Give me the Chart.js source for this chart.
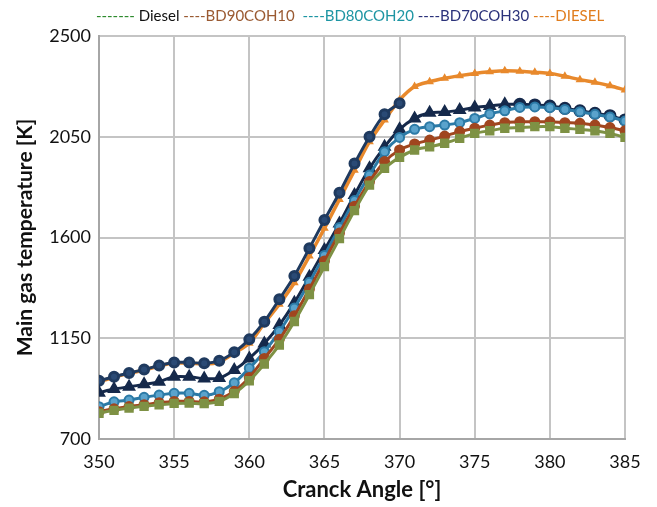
<!DOCTYPE html>
<html>
<head>
<meta charset="utf-8">
<script src="https://cdn.jsdelivr.net/npm/chart.js@4"></script>
<style>
  html, body { margin: 0; padding: 0; background: #fff; }
  #wrap { width: 657px; height: 507px; position: relative; }
</style>
</head>
<body>
<div id="wrap"><canvas id="tempChart" width="657" height="507"></canvas></div>
<script>
// Crank angle [deg]
const angles = [350, 351, 352, 353, 354, 355, 356, 357, 358, 359, 360, 361, 362, 363, 364, 365, 366, 367,
                368, 369, 370, 371, 372, 373, 374, 375, 376, 377, 378, 379, 380, 381, 382, 383, 384, 385];

// Main gas temperature [K] per fuel
const dieselGreen = [815, 828, 838, 846, 853, 859, 860, 858, 868, 903, 960, 1035, 1120, 1225, 1345, 1470, 1595, 1720,
                     1834, 1909, 1958, 1991, 2005, 2021, 2043, 2065, 2077, 2088, 2091, 2095, 2095, 2088, 2083, 2077, 2065, 2047];
const bd90coh10 = [822, 835, 845, 853, 862, 868, 868, 866, 878, 913, 975, 1060, 1145, 1250, 1370, 1495, 1620, 1740,
                   1850, 1939, 1991, 2018, 2035, 2053, 2073, 2088, 2102, 2113, 2117, 2117, 2117, 2113, 2110, 2102, 2091, 2077];
const bd80coh20 = [844, 866, 874, 886, 896, 904, 904, 895, 911, 951, 1016, 1090, 1180, 1285, 1400, 1520, 1645, 1765,
                   1879, 1983, 2047, 2083, 2095, 2102, 2113, 2132, 2152, 2166, 2181, 2183, 2180, 2172, 2162, 2150, 2138, 2120];
const bd70coh30 = [907, 923, 933, 944, 956, 978, 978, 970, 972, 1008, 1060, 1127, 1209, 1309, 1425, 1544, 1663, 1790,
                   1909, 2005, 2083, 2132, 2157, 2160, 2169, 2181, 2187, 2195, 2195, 2192, 2187, 2177, 2166, 2155, 2144, 2125];
const dieselOrange = [956, 975, 993, 1008, 1026, 1039, 1039, 1035, 1044, 1084, 1128, 1217, 1302, 1398, 1517, 1641, 1770, 1900,
                      2028, 2125, 2214, 2274, 2296, 2311, 2323, 2333, 2340, 2345, 2343, 2338, 2333, 2320, 2305, 2293, 2278, 2259];
// dark circle curve, only plotted up to 370 deg
const darkCircles = [960, 978, 995, 1010, 1028, 1042, 1042, 1038, 1050, 1088, 1145, 1224, 1324, 1428, 1552, 1678, 1800, 1930,
                     2050, 2150, 2200];

// ticks
const xTicks = [350, 355, 360, 365, 370, 375, 380, 385];
const yTicks = [700, 1150, 1600, 2050, 2500];

// legend text
const legendNames = ['Diesel', 'BD90COH10', 'BD80COH20', 'BD70COH30', 'DIESEL'];

const FONT = 'Lato, "Liberation Sans", sans-serif';

function toPoints(vals) {
    return vals.map((v, i) => ({ x: angles[i], y: v }));
}

// triangles first, then circles at the top end
const triStyles = bd70coh30.map((v, i) => angles[i] <= 377 ? 'triangle' : 'circle');

// Legend drawn as a line of coloured text on top
const textLegend = {
    id: 'textLegend',
    afterDraw(chart) {
        const ctx = chart.ctx;
        const pieces = [
            { t: '------- ', c: '#2e8b2e' },
            { t: legendNames[0] + ' ', c: '#111' },
            { t: '----' + legendNames[1] + '  ', c: '#9a5a32' },
            { t: '----' + legendNames[2] + ' ', c: '#1d95a3' },
            { t: '----' + legendNames[3] + ' ', c: '#2b327a' },
            { t: '----' + legendNames[4], c: '#e07d1e' }
        ];
        ctx.save();
        ctx.font = '15px ' + FONT;
        ctx.textBaseline = 'middle';
        let total = 0;
        pieces.forEach(p => { total += ctx.measureText(p.t).width; });
        let x = 350 - total / 2;
        pieces.forEach(p => {
            ctx.fillStyle = p.c;
            ctx.fillText(p.t, x, 16);
            x += ctx.measureText(p.t).width;
        });
        ctx.restore();
    }
};

const ctx = document.getElementById('tempChart');
new Chart(ctx.getContext('2d'), {
    type: 'line',
    data: {
        datasets: [
            {
                label: legendNames[0],
                data: toPoints(dieselGreen),
                borderColor: '#7e9144', backgroundColor: '#7e9144',
                borderWidth: 3, pointStyle: 'rect', pointRadius: 4.5
            },
            {
                label: legendNames[1],
                data: toPoints(bd90coh10),
                borderColor: '#a0461f', backgroundColor: '#a0461f',
                borderWidth: 3, pointStyle: 'circle', pointRadius: 4
            },
            {
                label: legendNames[2],
                data: toPoints(bd80coh20),
                borderColor: '#2c7aa6', backgroundColor: '#5aa3cc',
                borderWidth: 3, pointStyle: 'circle', pointRadius: 4.5, pointBorderWidth: 2
            },
            {
                label: legendNames[3],
                data: toPoints(bd70coh30),
                borderColor: '#15294b', backgroundColor: '#15294b',
                borderWidth: 3, pointStyle: triStyles, pointRadius: 5
            },
            {
                label: 'dark',
                data: toPoints(darkCircles),
                borderColor: '#1f3a5f', backgroundColor: '#2a4a75',
                borderWidth: 3, pointStyle: 'circle', pointRadius: 4.5
            },
            {
                label: legendNames[4],
                data: toPoints(dieselOrange),
                borderColor: '#e8892c', backgroundColor: '#e8892c',
                borderWidth: 3.5, pointStyle: 'triangle', pointRadius: 1.5
            }
        ]
    },
    options: {
        responsive: false,
        animation: false,
        layout: { padding: { top: 36, right: 32, bottom: 0, left: 0 } },
        plugins: {
            legend: { display: false },
            tooltip: { enabled: false }
        },
        elements: { line: { tension: 0.3 } },
        scales: {
            x: {
                type: 'linear',
                min: 350, max: 385,
                afterBuildTicks: axis => { axis.ticks = xTicks.map(v => ({ value: v })); },
                afterFit: axis => { axis.height = 68; },
                grid: { color: '#c4c4c4', lineWidth: 2, drawTicks: false },
                border: { color: '#a6a6a6', width: 2 },
                ticks: {
                    padding: 12, color: '#111', font: { family: FONT, size: 18 },
                    callback: v => String(v)
                },
                title: {
                    display: true, text: 'Cranck Angle [°]', color: '#111',
                    font: { family: FONT, size: 22, weight: 'bold' }, padding: { top: 4 }
                }
            },
            y: {
                min: 700, max: 2500,
                afterBuildTicks: axis => { axis.ticks = yTicks.map(v => ({ value: v })); },
                afterFit: axis => { axis.width = 99; },
                grid: { color: '#c4c4c4', lineWidth: 2, drawTicks: false },
                border: { color: '#a6a6a6', width: 2 },
                ticks: {
                    padding: 8, color: '#111', font: { family: FONT, size: 18 },
                    callback: v => String(v)
                },
                title: {
                    display: true, text: 'Main gas temperature [K]', color: '#111',
                    font: { family: FONT, size: 21, weight: 'bold' }, padding: { top: 13, bottom: 0 }
                }
            }
        }
    },
    plugins: [textLegend]
});
</script>
</body>
</html>
